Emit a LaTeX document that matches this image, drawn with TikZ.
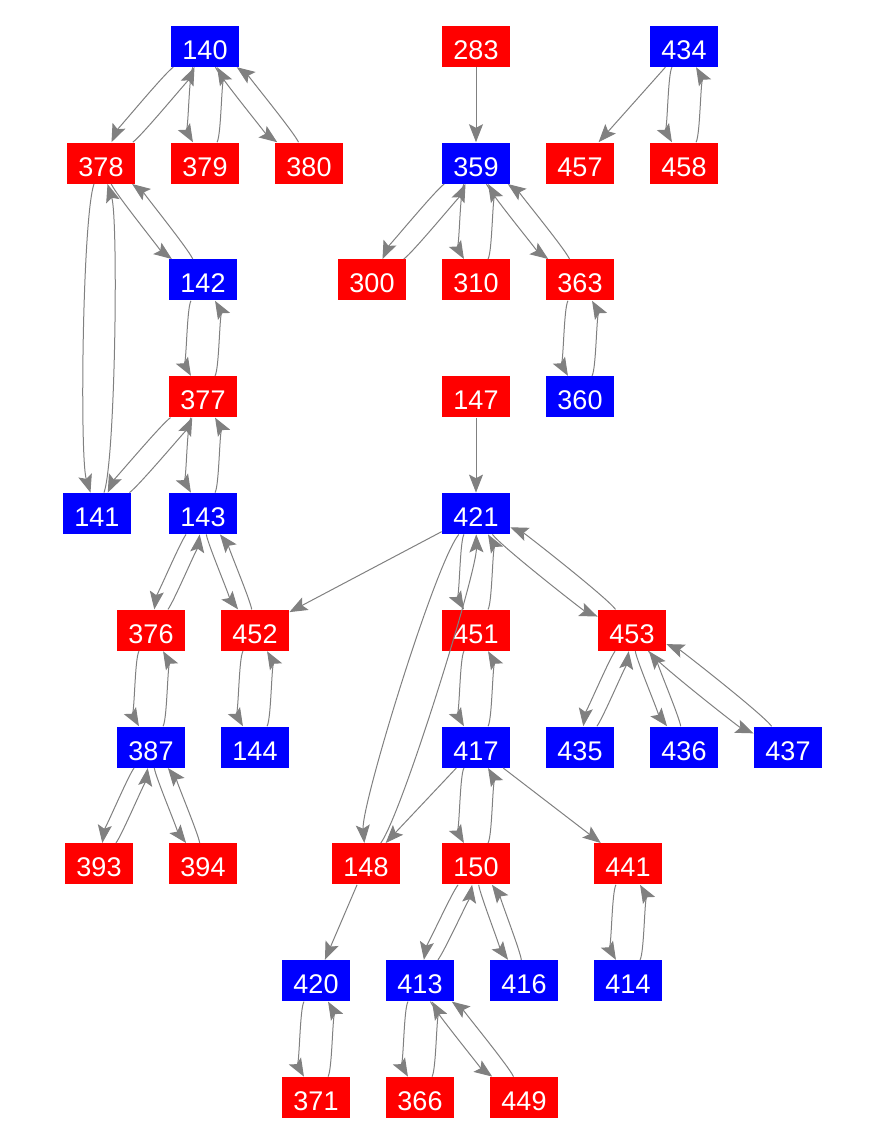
\documentclass[tikz,border=0pt]{standalone}
\usepackage{fontspec}
\setmainfont{Liberation Sans}
\usetikzlibrary{arrows.meta}

\begin{document}
\begin{tikzpicture}[x=0.5pt,y=-0.5pt,
    vert/.style={fill=#1, text=white, minimum width=34pt, minimum height=20.5pt,
        inner sep=0pt, text height=13pt, text depth=0pt, font=\fontsize{13.5}{15}\selectfont},
    arr/.style={draw=gray, line width=0.5pt, -{Stealth[length=9pt,width=7pt,inset=1.8pt]}},
    dbl/.style={arr, bend right=#1, looseness=0.3}, dbl/.default=15]
            \useasboundingbox (0,0) rectangle (875,1142);
            % vertices: label / x / row / colour
            \foreach \v/\x/\r/\c in {140/205/0/blue, 283/476/0/red, 434/684/0/blue,
                378/101/1/red, 379/205/1/red, 380/309/1/red, 359/476/1/blue, 457/580/1/red, 458/684/1/red,
                142/203/2/blue, 300/372/2/red, 310/476/2/red, 363/580/2/red,
                377/203/3/red, 147/476/3/red, 360/580/3/blue,
                141/97/4/blue, 143/203/4/blue, 421/476/4/blue,
                376/151/5/red, 452/255/5/red, 451/476/5/red, 453/632/5/red,
                387/151/6/blue, 144/255/6/blue, 417/476/6/blue, 435/580/6/blue, 436/684/6/blue, 437/788/6/blue,
                393/99/7/red, 394/203/7/red, 148/366/7/red, 150/476/7/red, 441/628/7/red,
                420/316/8/blue, 413/420/8/blue, 416/524/8/blue, 414/628/8/blue,
                371/316/9/red, 366/420/9/red, 449/524/9/red}
            \node[vert=\c] (n\v) at (\x,{46.3+116.8*\r}) {\v};

            % arrows both ways, straight down
            \foreach \a/\b in {140/379, 142/377, 377/143, 376/387, 452/144, 359/310, 363/360,
                434/458, 421/451, 451/417, 417/150, 441/414, 420/371, 413/366}
            {
            \draw[dbl=30] (n\a) to (n\b);
            \draw[dbl=30] (n\b) to (n\a);
            }
            % arrows both ways, slanted
            \foreach \a/\b in {140/378, 140/380, 378/142, 377/141, 143/376, 143/452, 387/393, 387/394,
                359/300, 359/363, 421/453, 453/435, 453/436, 453/437, 150/413, 150/416, 413/449}
            {
            \draw[dbl] (n\a) to (n\b);
            \draw[dbl] (n\b) to (n\a);
            }
            % long ones
            \draw[dbl=18] (n378) to (n141);
            \draw[dbl=18] (n141) to (n378);
            \draw[dbl=22] (n421) to (n148);
            \draw[dbl=18] (n148) to (n421);

            % one way only
            \foreach \a/\b in {283/359, 434/457, 147/421, 421/452, 417/148, 417/441, 148/420}
            \draw[arr] (n\a) -- (n\b);
        \end{tikzpicture}
\end{document}
